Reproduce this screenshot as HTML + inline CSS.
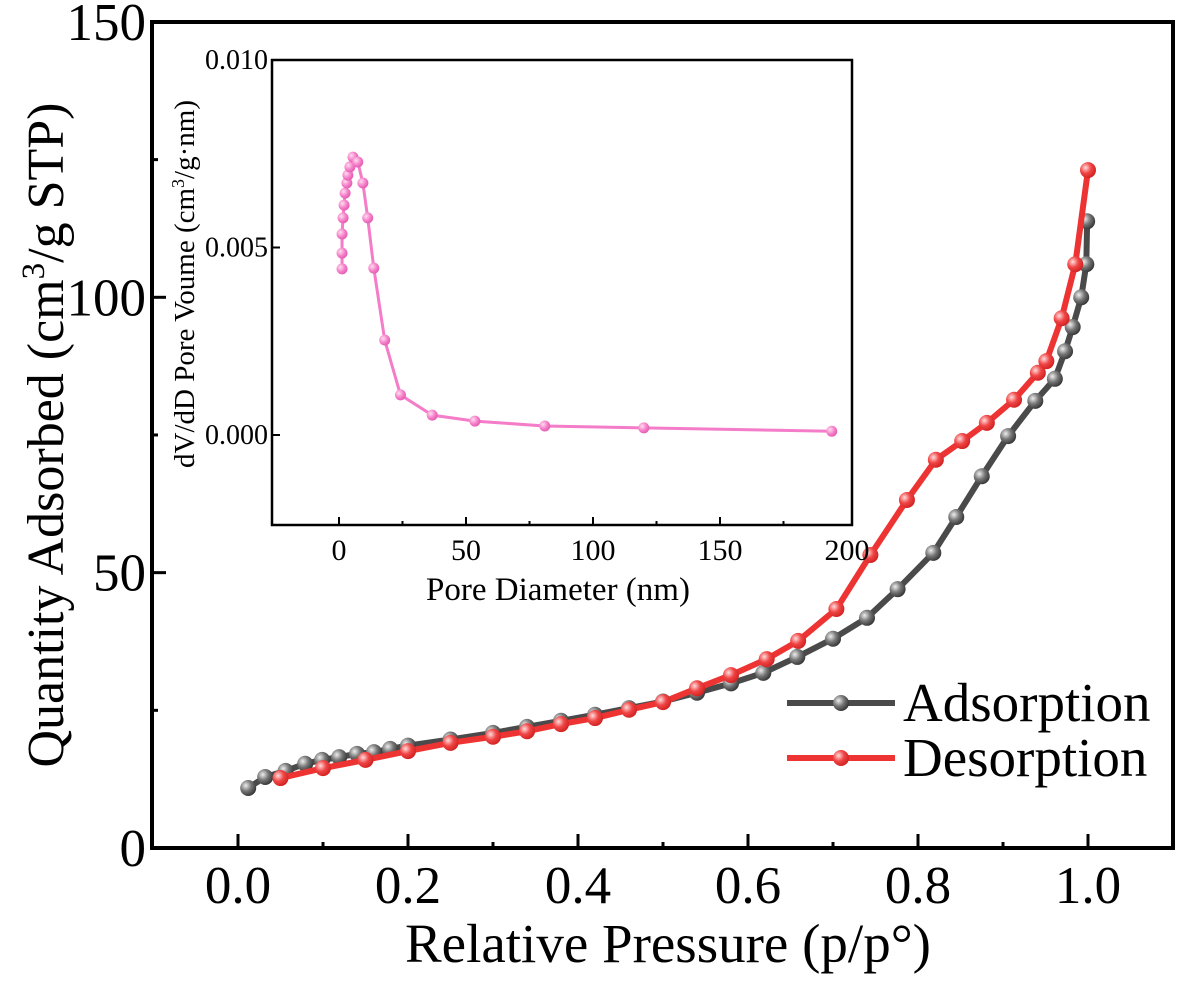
<!DOCTYPE html>
<html><head><meta charset="utf-8"><style>
html,body{margin:0;padding:0;background:#fff;width:1185px;height:984px;overflow:hidden}
svg, svg text{font-family:"Liberation Serif","DejaVu Serif",serif !important;fill:#000}
</style></head><body>
<svg id="chart" width="1185" height="984" viewBox="0 0 1185 984" xmlns="http://www.w3.org/2000/svg" font-family="Liberation Serif, serif">
<defs>
<radialGradient id="gGray" cx="0.35" cy="0.35" r="0.7"><stop offset="0" stop-color="#eee"/><stop offset="0.5" stop-color="#777"/><stop offset="1" stop-color="#333"/></radialGradient>
<radialGradient id="gRed" cx="0.35" cy="0.35" r="0.7"><stop offset="0" stop-color="#fdd"/><stop offset="0.5" stop-color="#f04545"/><stop offset="1" stop-color="#d02020"/></radialGradient>
<radialGradient id="gPink" cx="0.35" cy="0.35" r="0.7"><stop offset="0" stop-color="#fde"/><stop offset="0.6" stop-color="#f47cc8"/><stop offset="1" stop-color="#e45ab0"/></radialGradient>
</defs>
<g id="main"></g>
<g id="inset"></g>
</svg>
<script>
const adsP=[0.012,0.032,0.056,0.079,0.099,0.119,0.14,0.16,0.179,0.2,0.25,0.3,0.34,0.38,0.42,0.46,0.5,0.54,0.58,0.618,0.658,0.7,0.74,0.776,0.818,0.845,0.875,0.906,0.938,0.961,0.973,0.982,0.992,0.998,0.999];
const adsV=[10.9,12.9,14,15.3,16,16.5,17.1,17.4,18,18.6,19.7,20.9,22,23.1,24.2,25.4,26.6,28.2,29.9,31.8,34.7,38,41.8,47,53.6,60.1,67.5,74.8,81.2,85.2,90.2,94.6,100,106,113.8];
const desP=[0.05,0.1,0.15,0.2,0.25,0.3,0.34,0.38,0.42,0.46,0.5,0.54,0.58,0.622,0.659,0.704,0.744,0.787,0.821,0.852,0.881,0.913,0.941,0.951,0.969,0.985,1.0];
const desV=[12.7,14.5,16,17.6,19.1,20.2,21.2,22.5,23.6,25.1,26.5,29,31.4,34.3,37.6,43.4,53.2,63.2,70.5,73.9,77.2,81.4,86.3,88.4,96.2,106,123.1];
const xTicks=["0.0","0.2","0.4","0.6","0.8","1.0"];
const yTicks=["0","50","100","150"];
const poreD=[1.2,1.2,1.2,1.6,2,2.4,3.1,3.5,4.3,5.5,7.4,9.4,11.3,13.7,18,24.2,36.7,53.5,81,120,194];
const poreV=[0.00443,0.00485,0.00536,0.00579,0.00613,0.00645,0.00672,0.00693,0.00715,0.00741,0.00728,0.00672,0.00579,0.00445,0.00253,0.00107,0.00053,0.00037,0.00024,0.00019,0.0001];
const inXTicks=["0","50","100","150","200"];
const inYTicks=["0.000","0.005","0.010"];

const NS="http://www.w3.org/2000/svg";
const FF="'Liberation Serif', serif";
function mk(parent,tag,attrs,text){const e=document.createElementNS(NS,tag);for(const k in attrs)e.setAttribute(k,attrs[k]);if(tag==='text')e.setAttribute('font-family',FF);if(text!==undefined)e.textContent=text;parent.appendChild(e);return e;}
const X=p=>238+p*850, Y=v=>848-v*5.507;
const main=document.getElementById('main');
const fr=mk(main,'rect',{x:152,y:22,width:1021,height:826,fill:'none',stroke:'#000','stroke-width':4});


for(let i=0;i<=10;i++){const p=i*0.1;const len=i%2==0?14:6;
 const t=mk(main,'line',{x1:X(p),x2:X(p),y1:848,y2:848-len,stroke:'#000','stroke-width':3});
 
 }
xTicks.forEach(s=>{const p=parseFloat(s);
 const t=mk(main,'text',{x:X(p),y:903,'font-size':53,'text-anchor':'middle'},s);
 
 });
for(let v=0;v<=150;v+=25){const len=v%50==0?14:6;
 const t=mk(main,'line',{x1:152,x2:152+len,y1:Y(v),y2:Y(v),stroke:'#000','stroke-width':3});
 
 }
yTicks.forEach(s=>{const v=parseFloat(s);
 const t=mk(main,'text',{x:146,y:Y(v)+18,'font-size':53,'text-anchor':'end'},s);
 
 });
const xt=mk(main,'text',{x:668,y:962,'font-size':55,'text-anchor':'middle'},'Relative Pressure (p/p°)');


const yt=mk(main,'text',{transform:'translate(63,435) rotate(-90)','font-size':52,'text-anchor':'middle'});


yt.innerHTML='Quantity Adsorbed (cm<tspan font-size="33" dy="-19">3</tspan><tspan dy="19">/g STP)</tspan>';
function series(P,V,col,grad,name){
 const g=mk(main,'g',{});
 
 
 const pl=mk(g,'polyline',{points:P.map((p,i)=>X(p)+','+Y(V[i])).join(' '),fill:'none',stroke:col,'stroke-width':6,'stroke-linejoin':'round'});
 
 
 P.forEach((p,i)=>{const c=mk(g,'circle',{cx:X(p),cy:Y(V[i]),r:8,fill:'url(#'+grad+')'});
  
  });
}
series(adsP,adsV,'#4a4a4a','gGray','adsorption-series');
series(desP,desV,'#ee3333','gRed','desorption-series');
function leg(y,col,grad,label,name){
 const g=mk(main,'g',{});
 
 
 mk(g,'line',{x1:787,x2:895,y1:y,y2:y,stroke:col,'stroke-width':6});
 mk(g,'circle',{cx:841,cy:y,r:8,fill:'url(#'+grad+')'});
 mk(g,'text',{x:903,y:y+18,'font-size':55},label);
}
leg(703,'#4a4a4a','gGray','Adsorption','legend-adsorption');
leg(758,'#ee3333','gRed','Desorption','legend-desorption');

const ins=document.getElementById('inset');
const IX=d=>339+d*2.54, IY=v=>435-v*37500;
const ifr=mk(ins,'rect',{x:272,y:60,width:580,height:465,fill:'#fff',stroke:'#000','stroke-width':2.5});


for(let d=0;d<=175;d+=25){const len=d%50==0?8:4;
 const t=mk(ins,'line',{x1:IX(d),x2:IX(d),y1:525,y2:525-len,stroke:'#000','stroke-width':2});
 
 }
inXTicks.forEach(s=>{const d=parseFloat(s);
 const t=mk(ins,'text',{x:IX(d),y:560,'font-size':30,'text-anchor':'middle'},s);
 
 });
inYTicks.forEach(s=>{const v=parseFloat(s);
 const t=mk(ins,'text',{x:268,y:IY(v)+9,'font-size':28,'text-anchor':'end'},s);
 
 
 const tk=mk(ins,'line',{x1:272,x2:280,y1:IY(v),y2:IY(v),stroke:'#000','stroke-width':2});
 
 });
const ixt=mk(ins,'text',{x:558,y:600,'font-size':33,'text-anchor':'middle'},'Pore Diameter (nm)');


const iyt=mk(ins,'text',{transform:'translate(194,284) rotate(-90)','font-size':29,'text-anchor':'middle'});


iyt.innerHTML='dV/dD Pore Voume (cm<tspan font-size="18" dy="-10">3</tspan><tspan dy="10">/g·nm)</tspan>';
const ig=mk(ins,'g',{});


const ipl=mk(ig,'polyline',{points:poreD.map((d,i)=>IX(d)+','+IY(poreV[i])).join(' '),fill:'none',stroke:'#f47cc8','stroke-width':3});


poreD.forEach((d,i)=>{const c=mk(ig,'circle',{cx:IX(d),cy:IY(poreV[i]),r:5.5,fill:'url(#gPink)'});
 
 });
</script>
</body></html>
